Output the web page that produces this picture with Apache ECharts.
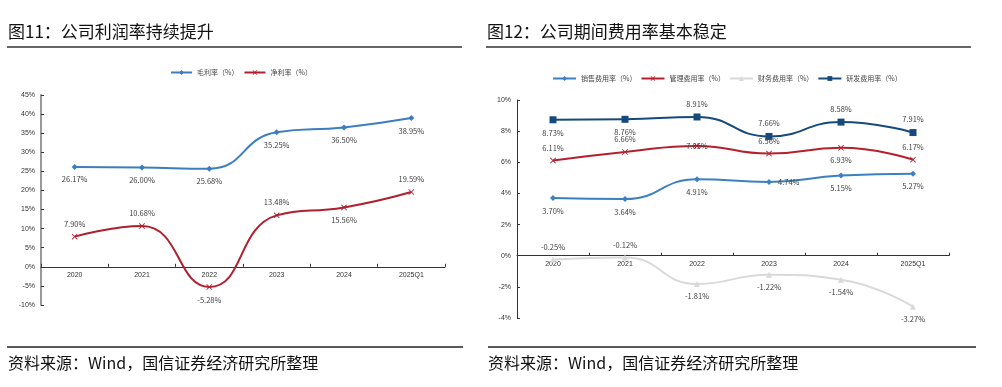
<!DOCTYPE html>
<html><head><meta charset="utf-8">
<script src="https://cdn.jsdelivr.net/npm/echarts@6/dist/echarts.min.js"></script>
<style>html,body{margin:0;padding:0;background:#fff}#c{width:1002px;height:387px}</style>
</head><body><div id="c"></div>
<script>
var categories = ['2020','2021','2022','2023','2024','2025Q1'];
var grossMargin = [26.17, 26.00, 25.68, 35.25, 36.50, 38.95];
var netMargin = [7.90, 10.68, -5.28, 13.48, 15.56, 19.59];
var grossPos = ['bottom','bottom','bottom','bottom','bottom','bottom'];
var netPos = ['top','top','bottom','top','bottom','top'];

var salesRate = [3.70, 3.64, 4.91, 4.74, 5.15, 5.27];
var adminRate = [6.11, 6.66, 7.05, 6.56, 6.93, 6.17];
var finRate = [-0.25, -0.12, -1.81, -1.22, -1.54, -3.27];
var rdRate = [8.73, 8.76, 8.91, 7.66, 8.58, 7.91];
var salesPos = ['bottom','bottom','bottom','right','bottom','bottom'];
var adminPos = ['top','top','inside','top','bottom','top'];
var finPos = ['top','top','bottom','bottom','bottom','bottom'];
var rdPos = ['bottom','bottom','top','top','top','top'];

var leftTicks = {min:-10, max:45, interval:5};
var rightTicks = {min:-4, max:10, interval:2};

var FONT = '"Noto Sans CJK SC", "Liberation Sans", sans-serif';
var crossPath = 'path://M0,1L1,0L5,4L9,0L10,1L6,5L10,9L9,10L5,6L1,10L0,9L4,5Z';

var grids = [
  {left:41, right:557, top:95, bottom:82},
  {left:517, right:53, top:100, bottom:69}
];
var H = 387;

function withPos(vals, pos){
  return vals.map(function(v,i){ return {value:v, label:{position:pos[i]}}; });
}
function pct(p){ return p.value.toFixed(2) + '%'; }

function lineSeries(name, vals, pos, color, symbol, size, xi, lineW){
  return {
    name:name, type:'line', xAxisIndex:xi, yAxisIndex:xi,
    data: withPos(vals, pos), smooth:0.5,
    symbol:symbol, symbolSize:size,
    lineStyle:{color:color, width:lineW||2},
    itemStyle:{color:color},
    label:{show:true, formatter:pct, fontSize:7.5, color:'#404040', fontFamily:FONT, distance:6},
    emphasis:{disabled:true}, z:3
  };
}

function yAxis(gi, t, color, w){
  return {
    type:'value', gridIndex:gi, min:t.min, max:t.max, interval:t.interval,
    axisLine:{show:true, lineStyle:{color:color, width:w}},
    axisTick:{show:true, inside:true, length:3, lineStyle:{color:'#333'}},
    splitLine:{show:false},
    axisLabel:{formatter:'{value}%', fontSize:7, color:'#333', fontFamily:'"Liberation Sans", sans-serif', margin:6}
  };
}
// place the category axis (line, ticks and labels) on the zero line of the value axis
function xAxis(gi, t){
  var g = grids[gi];
  var h = H - g.top - g.bottom;
  var zeroOff = h * (0 - t.min) / (t.max - t.min);
  return {
    type:'category', gridIndex:gi, data:categories, position:'bottom', offset:-zeroOff,
    axisLine:{onZero:false, lineStyle:{color:'#333', width:1}},
    axisTick:{show:true, inside:true, length:3, lineStyle:{color:'#333'}},
    axisLabel:{fontSize:7, color:'#333', fontFamily:'"Liberation Sans", sans-serif', margin:5}
  };
}

var chart = echarts.init(document.getElementById('c'), null, {renderer:'canvas'});
chart.setOption({
  animation:false,
  backgroundColor:'#fff',
  grid:grids,
  xAxis:[xAxis(0, leftTicks), xAxis(1, rightTicks)],
  yAxis:[yAxis(0, leftTicks, '#999', 2), yAxis(1, rightTicks, '#333', 1)],
  legend:[
    {data:['毛利率（%）','净利率（%）'], left:165, top:64, itemWidth:21, itemHeight:6, itemGap:5,
     textStyle:{fontSize:7, color:'#444', fontFamily:FONT}},
    {data:['销售费用率（%）','管理费用率（%）','财务费用率（%）','研发费用率（%）'], left:547, top:70, itemWidth:23, itemHeight:6, itemGap:4,
     textStyle:{fontSize:7, color:'#444', fontFamily:FONT}}
  ],
  series:[
    lineSeries('毛利率（%）', grossMargin, grossPos, '#3b7dbd', 'diamond', 6, 0),
    lineSeries('净利率（%）', netMargin, netPos, '#b01f2e', crossPath, 6, 0),
    lineSeries('销售费用率（%）', salesRate, salesPos, '#3d80c2', 'diamond', 6, 1),
    lineSeries('管理费用率（%）', adminRate, adminPos, '#b5202f', crossPath, 6, 1),
    lineSeries('财务费用率（%）', finRate, finPos, '#d9d9d9', 'triangle', 6, 1),
    lineSeries('研发费用率（%）', rdRate, rdPos, '#174a7c', 'rect', 7, 1)
  ],
  graphic:[
    {type:'text', left:8, top:23, style:{text:'图11：公司利润率持续提升', font:'17px '+FONT, fill:'#111'}},
    {type:'text', left:487, top:23, style:{text:'图12：公司期间费用率基本稳定', font:'17px '+FONT, fill:'#111'}},
    {type:'line', shape:{x1:7, y1:47, x2:462, y2:47}, style:{stroke:'#666', lineWidth:2}},
    {type:'line', shape:{x1:486, y1:47, x2:971, y2:47}, style:{stroke:'#666', lineWidth:2}},
    {type:'line', shape:{x1:7, y1:347, x2:463, y2:347}, style:{stroke:'#222', lineWidth:1.5}},
    {type:'line', shape:{x1:488, y1:347, x2:976, y2:347}, style:{stroke:'#222', lineWidth:1.5}},
    {type:'text', left:8, top:355, style:{text:'资料来源：Wind，国信证券经济研究所整理', font:'16px '+FONT, fill:'#111'}},
    {type:'text', left:488, top:355, style:{text:'资料来源：Wind，国信证券经济研究所整理', font:'16px '+FONT, fill:'#111'}}
  ]
});
</script></body></html>
